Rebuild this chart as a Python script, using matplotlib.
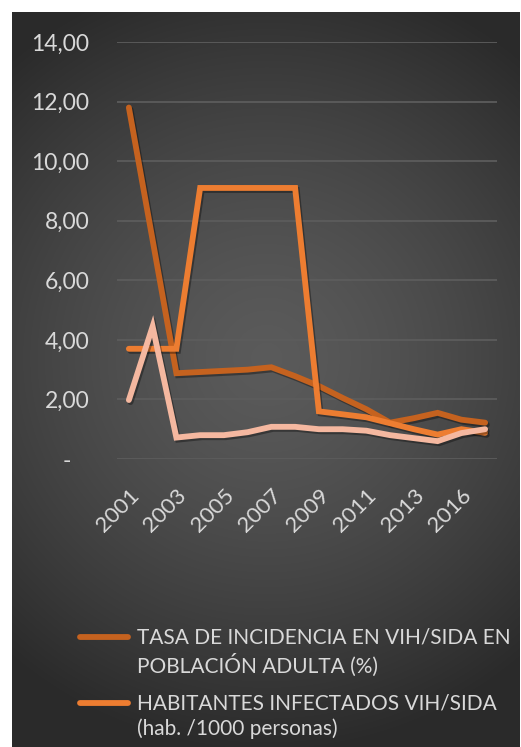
import numpy as np
import matplotlib
matplotlib.use("Agg")
import matplotlib.pyplot as plt
import matplotlib.patheffects as pe
from matplotlib.lines import Line2D

plt.rcParams['font.family'] = ['Lato', 'DejaVu Sans']

# Data
years = ["2001", "2002", "2003", "2004", "2005", "2006", "2007", "2008",
         "2009", "2010", "2011", "2012", "2013", "2015", "2016", "2017"]
tasa_incidencia = [11.80, 7.35, 2.88, 2.92, 2.96, 3.00, 3.08, 2.78,
                   2.45, 2.05, 1.67, 1.22, 1.37, 1.55, 1.32, 1.22]
habitantes_infectados = [3.70, 3.70, 3.70, 9.10, 9.10, 9.10, 9.10, 9.10,
                         1.60, 1.50, 1.40, 1.20, 1.00, 0.82, 1.00, 0.88]
tercera_serie = [1.98, 4.45, 0.72, 0.80, 0.80, 0.90, 1.08, 1.08,
                 1.00, 1.00, 0.95, 0.80, 0.70, 0.60, 0.87, 1.00]
y_ticks = [0, 2, 4, 6, 8, 10, 12, 14]
y_tick_labels = ["-   ", "2,00", "4,00", "6,00", "8,00", "10,00", "12,00", "14,00"]
legend_labels = ["TASA DE INCIDENCIA EN VIH/SIDA EN\nPOBLACIÓN ADULTA (%)",
                 "HABITANTES INFECTADOS VIH/SIDA\n(hab. /1000 personas)"]

colors = ["#C5621F", "#ED7D31", "#F5B8A0"]
text_color = "#D9D9D9"

W, H = 521, 747
fig = plt.figure(figsize=(W / 100, H / 100), dpi=100, facecolor="white")

# Dark panel with radial gradient
bg = fig.add_axes([12 / W, 0, (520 - 12) / W, 1 - 12 / H], zorder=-5)
ny, nx = 400, 300
yy, xx = np.mgrid[0:ny, 0:nx]
cx, cy = nx * 0.5, ny * 0.47
r = np.sqrt(((xx - cx) / nx) ** 2 + ((yy - cy) / ny * 1.45) ** 2)
r = np.clip(r / 0.78, 0, 1)
c_in, c_out = 0.355, 0.165
vals = c_in + (c_out - c_in) * r ** 1.4
img = np.dstack([vals, vals, vals])
bg.imshow(img, aspect="auto", extent=[0, 1, 0, 1], interpolation="bilinear")
bg.set_axis_off()

# Plot area
ax = fig.add_axes([117 / W, 1 - 459 / H, (497 - 117) / W, (459 - 42) / H])
ax.set_facecolor("none")
x = np.arange(len(years))
shadow = [pe.SimpleLineShadow(offset=(1.2, -1.5), shadow_color="black", alpha=0.35),
          pe.Normal()]
series = [tasa_incidencia, habitantes_infectados, tercera_serie]
for vals_s, col in zip(series, colors):
    ax.plot(x, vals_s, color=col, lw=4.2, solid_capstyle="round",
            solid_joinstyle="miter", path_effects=shadow, zorder=3)

ax.set_xlim(-0.5, len(years) - 0.5)
ax.set_ylim(0, 14)
ax.set_yticks(y_ticks)
ax.set_yticklabels(y_tick_labels)
ax.set_xticks(x[::2])
ax.set_xticklabels([years[i] for i in range(0, len(years), 2)],
                   rotation=45, ha="right", va="top", rotation_mode="anchor")
ax.tick_params(axis="y", length=0, pad=20, labelsize=16.5, labelcolor=text_color)
ax.tick_params(axis="x", length=0, pad=19, labelsize=16, labelcolor=text_color)
for sp in ax.spines.values():
    sp.set_visible(False)
ax.grid(axis="y", color="#5C5C5C", lw=1.3, zorder=0)
ax.set_axisbelow(True)

# Legend entries
entries_y = [637, 703]
for lab, col, yp in zip(legend_labels, colors[:2], entries_y):
    fy = 1 - yp / H
    fig.add_artist(Line2D([80 / W, 128 / W], [fy, fy], color=col, lw=4.2,
                          solid_capstyle="round", transform=fig.transFigure))
    fig.text(137 / W, fy + 10 / H, lab, color=text_color, fontsize=15,
             ha="left", va="top", linespacing=1.35)

fig.savefig("out.png", dpi=100, facecolor="white")
